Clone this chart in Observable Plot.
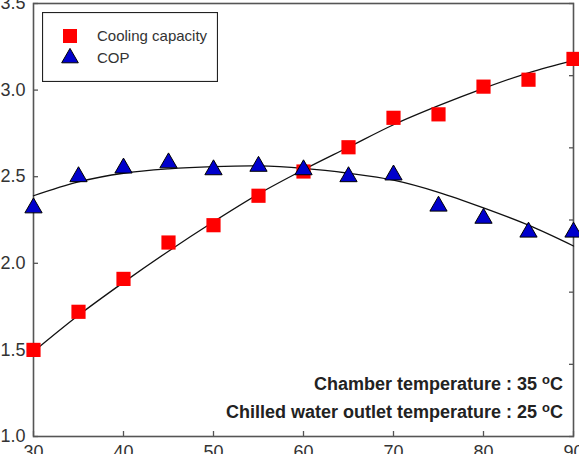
<!DOCTYPE html>
<html>
<head>
<meta charset="utf-8">
<script src="https://cdn.jsdelivr.net/npm/d3@7"></script>
<script src="https://cdn.jsdelivr.net/npm/@observablehq/plot@0.6"></script>
<style>
  html, body { margin: 0; padding: 0; background: #fff; }
  #chart { position: relative; width: 579px; height: 454px; overflow: hidden; }
  #legend { position: absolute; left: 42px; top: 12px; }
  .note { position: absolute; right: 16px; font: bold 18px "Liberation Sans", Arial, sans-serif;
          color: #222; line-height: 28px; white-space: nowrap; }
  .note .deg { position: relative; top: -0.45em; font-size: 0.72em; line-height: 0; }
</style>
</head>
<body>
<div id="chart"></div>
<script>
// Air temperature at condenser inlet (x) and measured performance
const temps = [30, 35, 40, 45, 50, 55, 60, 65, 70, 75, 80, 85, 90];
const coolingCapacity = [1.50, 1.72, 1.91, 2.12, 2.22, 2.39, 2.53, 2.67, 2.84, 2.86, 3.02, 3.06, 3.18];
const cop = [2.32, 2.50, 2.55, 2.58, 2.54, 2.56, 2.54, 2.50, 2.51, 2.33, 2.26, 2.18, 2.18];

// Trend lines through each series
const coolingFit = [1.49, 1.70, 1.89, 2.07, 2.24, 2.40, 2.54, 2.67, 2.80, 2.91, 3.01, 3.10, 3.17];
const copFit = [2.39, 2.47, 2.52, 2.545, 2.558, 2.562, 2.548, 2.52, 2.48, 2.41, 2.32, 2.22, 2.10];

// Axis ticks
const xTicks = [30, 40, 50, 60, 70, 80, 90];
const yTicks = [1.0, 1.5, 2.0, 2.5, 3.0, 3.5];
const rightTicks = [0, 1, 2, 3, 4, 5, 6];   // secondary axis, 0–6

const seriesNames = ["Cooling capacity", "COP"];

const rows = temps.map((t, i) => ({
  t, cap: coolingCapacity[i], cop: cop[i], capFit: coolingFit[i], copFit: copFit[i]
}));

// secondary axis mapped onto the primary y range
const rightToLeft = d3.scaleLinear([0, 6], [1, 3.5]);

const axisColor = "#555";

const plot = Plot.plot({
  width: 579,
  height: 454,
  marginLeft: 33,
  marginRight: 6,
  marginTop: 3,
  marginBottom: 18,
  style: {
    fontFamily: "'Liberation Sans', Arial, sans-serif",
    fontSize: "18px",
    color: "#333",
    background: "white",
    overflow: "visible"
  },
  x: { domain: [30, 90] },
  y: { domain: [1, 3.5] },
  marks: [
    Plot.axisX({ ticks: xTicks, tickSize: -5, tickPadding: 14, stroke: axisColor, strokeWidth: 1.3,
                 tickFormat: d => String(d), label: null, fill: "#333" }),
    Plot.axisY({ ticks: yTicks, tickSize: -5, tickPadding: 13, stroke: axisColor, strokeWidth: 1.3,
                 tickFormat: d3.format(".1f"), label: null, fill: "#333" }),
    Plot.axisY({ anchor: "right", ticks: rightTicks.map(rightToLeft), tickSize: -5, stroke: axisColor,
                 strokeWidth: 1.3, tickFormat: () => "", label: null }),
    Plot.frame({ stroke: axisColor, strokeWidth: 1.6 }),
    Plot.line(rows, { x: "t", y: "capFit", curve: "catmull-rom", stroke: "#111", strokeWidth: 1.3 }),
    Plot.line(rows, { x: "t", y: "copFit", curve: "catmull-rom", stroke: "#111", strokeWidth: 1.3 }),
    Plot.dot(rows, { x: "t", y: "cap", symbol: "square", r: 8, fill: "#ff0000", stroke: "none" }),
    Plot.dot(rows, { x: "t", y: "cop", symbol: "triangle", r: 6.4, fill: "#0000cc", stroke: "#000", strokeWidth: 1 })
  ]
});

const chart = document.getElementById("chart");
chart.appendChild(plot);

// Legend box in the upper-left corner of the plot area
const legend = d3.create("svg")
  .attr("id", "legend")
  .attr("width", 176)
  .attr("height", 70)
  .style("font-family", "'Liberation Sans', Arial, sans-serif");
legend.append("rect")
  .attr("x", 0.5).attr("y", 0.5).attr("width", 175).attr("height", 69)
  .attr("fill", "white").attr("stroke", "#222").attr("stroke-width", 1.2);
const symbols = [d3.symbolSquare, d3.symbolTriangle];
const fills = ["#ff0000", "#0000cc"];
const strokes = ["none", "#000"];
const sizes = [196, 120];
seriesNames.forEach((name, i) => {
  const cy = 24 + i * 22;
  legend.append("path")
    .attr("d", d3.symbol(symbols[i], sizes[i])())
    .attr("transform", `translate(28,${cy})`)
    .attr("fill", fills[i]).attr("stroke", strokes[i]).attr("stroke-width", 1);
  legend.append("text")
    .attr("x", 55).attr("y", cy).attr("dy", "0.35em")
    .attr("font-size", 15).attr("fill", "#333")
    .text(name);
});
chart.appendChild(legend.node());

// Test-condition notes in the lower-right corner
const notes = [
  ["Chamber temperature : 35 ", "C"],
  ["Chilled water outlet temperature : 25 ", "C"]
];
notes.forEach(([text, unit], i) => {
  const div = document.createElement("div");
  div.className = "note";
  div.style.top = (370 + i * 28) + "px";
  div.innerHTML = `${text}<span class="deg">o</span>${unit}`;
  chart.appendChild(div);
});
</script>
</body>
</html>
